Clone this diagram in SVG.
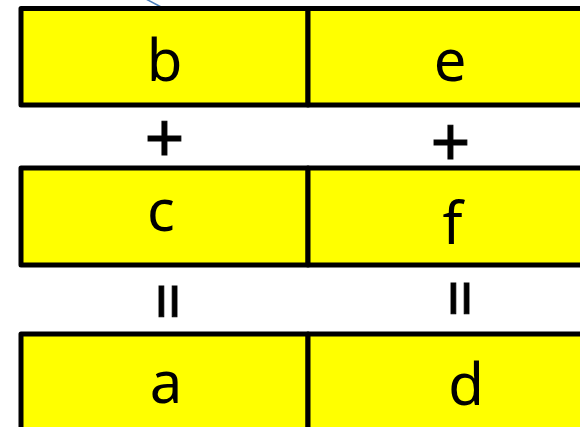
<svg xmlns="http://www.w3.org/2000/svg" width="580" height="427" viewBox="0 0 580 427">
<style>
.cell{fill:#ffff00;stroke:#000;stroke-width:5;stroke-linejoin:round}
.lbl{font-family:"Noto Sans","Open Sans",sans-serif;fill:#000;text-anchor:middle;font-size:58px}
.op{font-family:"Noto Sans","Open Sans",sans-serif;fill:#000;stroke:#000;stroke-width:0.9;text-anchor:middle}
</style>
<rect width="580" height="427" fill="#fff"/>
<g id="connectors">
<line x1="144" y1="-2" x2="164" y2="8.5" stroke="#4a7ebb" stroke-width="1.5"/>
</g>
<g id="node-b"><rect class="cell" x="21" y="8.5" width="287" height="96.5"/><text class="lbl" x="164.5" y="81">b</text></g>
<g id="node-e"><rect class="cell" x="308" y="8.5" width="284" height="96.5"/><text class="lbl" x="450" y="81">e</text></g>
<g id="node-c"><rect class="cell" x="21" y="168" width="287" height="97"/><text class="lbl" x="161" y="231">c</text></g>
<g id="node-f"><rect class="cell" x="308" y="168" width="284" height="97"/><text class="lbl" x="452.5" y="244">f</text></g>
<g id="node-a"><rect class="cell" x="21" y="334" width="287" height="110"/><text class="lbl" x="166" y="403">a</text></g>
<g id="node-d"><rect class="cell" x="308" y="334" width="284" height="110"/><text class="lbl" x="466" y="405">d</text></g>
<g id="operators">
<text class="op" x="164.5" y="163" font-size="70">+</text>
<text class="op" x="450.5" y="167" font-size="70">+</text>
<text class="op" transform="translate(167.2 301.3) rotate(90)" y="23.5" font-size="67">=</text>
<text class="op" transform="translate(459 298.5) rotate(90)" y="23.5" font-size="67">=</text>
</g>
</svg>
